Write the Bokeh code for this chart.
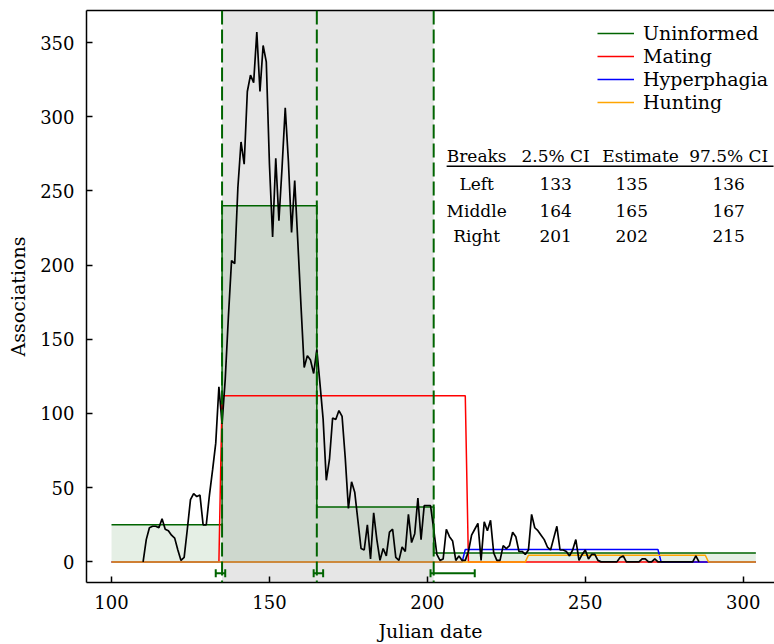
from bokeh.plotting import figure
from bokeh.models import (Range1d, LinearAxis, FixedTicker, Span, BoxAnnotation,
                          Whisker, TeeHead, ColumnDataSource, Legend, LegendItem)
from bokeh.embed import file_html
from bokeh.resources import INLINE
from bokeh.core.properties import value

# ---------------- data ----------------
days = list(range(110, 287))
associations = [
    0, 15, 23, 24, 24, 23, 29, 22, 21, 18,
    16, 8, 1, 3, 22, 42, 46, 44, 45, 25,
    25, 45, 62, 80, 118, 93, 123, 165, 203, 201,
    252, 283, 268, 317, 328, 323, 357, 317, 348, 337,
    268, 219, 272, 230, 266, 306, 270, 222, 257, 215,
    172, 131, 139, 136, 127, 143, 120, 96, 55, 69,
    97, 96, 102, 98, 70, 36, 54, 47, 28, 9,
    8, 25, 2, 33, 15, 1, 9, 4, 20, 22,
    3, 1, 10, 7, 32, 13, 19, 43, 15, 38,
    38, 38, 22, 5, 1, 2, 22, 17, 14, 1,
    4, 1, 1, 7, 18, 22, 26, 1, 27, 21,
    28, 6, 1, 1, 11, 9, 11, 20, 17, 7,
    7, 5, 8, 32, 23, 21, 18, 15, 10, 8,
    16, 24, 8, 8, 7, 4, 8, 15, 1, 5,
    8, 2, 5, 5, 1, 0, 0, 0, 0, 0,
    0, 3, 4, 0, 0, 0, 0, 0, 2, 2,
    0, 0, 2, 0, 0, 0, 0, 0, 0, 0,
    0, 0, 0, 0, 0, 4, 0,
]

break_names = ["Left", "Middle", "Right"]
ci_low = [133, 164, 201]
estimate = [135, 165, 202]
ci_high = [136, 167, 215]
table_header = ["Breaks", "2.5% CI", "Estimate", "97.5% CI"]

model_start, model_end = 100, 304
uninformed_levels = [25, 240, 37, 6]

mating_x = [100, 134, 135, 212, 213, 304]
mating_y = [0, 0, 112, 112, 0, 0]
hyperphagia_x = [100, 211, 212, 273, 274, 304]
hyperphagia_y = [0, 0, 8.3, 8.3, 0, 0]
hunting_x = [100, 231, 232, 288, 289, 304]
hunting_y = [0, 0, 4.5, 4.5, 0, 0]

# step line for uninformed model built from breaks and levels
uninf_x = [model_start]
uninf_y = [uninformed_levels[0]]
for b, lv_prev, lv_next in zip(estimate, uninformed_levels[:-1], uninformed_levels[1:]):
    uninf_x += [b, b]
    uninf_y += [lv_prev, lv_next]
uninf_x.append(model_end)
uninf_y.append(uninformed_levels[-1])

# ---------------- figure ----------------
FONT = "DejaVu Serif"
GREEN = "#006400"

p = figure(width=774, height=644,
           x_range=Range1d(92.08, 309.9), y_range=Range1d(-13.9, 371.6),
           output_backend="svg", toolbar_location=None,
           min_border_left=86, min_border_right=0, min_border_top=10, min_border_bottom=61)
p.outline_line_color = None
p.xgrid.visible = False
p.ygrid.visible = False
p.background_fill_color = "white"

# grey band between left and right breaks
p.add_layout(BoxAnnotation(left=estimate[0], right=estimate[-1], fill_color="#e6e6e6",
                           fill_alpha=1.0, line_color=None, level="underlay"))

# uninformed fill
p.varea(x=uninf_x, y1=[0] * len(uninf_x), y2=uninf_y, fill_color=GREEN, fill_alpha=0.1)

r_uninf = p.line(uninf_x, uninf_y, line_color=GREEN, line_width=1.5)
r_mat = p.line(mating_x, mating_y, line_color="red", line_width=1.5)
r_hyp = p.line(hyperphagia_x, hyperphagia_y, line_color="blue", line_width=1.5)
r_hun = p.line(hunting_x, hunting_y, line_color="orange", line_width=1.5)

p.line(days, associations, line_color="black", line_width=1.7)

# dashed break lines
for b in estimate:
    p.add_layout(Span(location=b, dimension="height", line_color=GREEN,
                      line_dash="14 5", line_width=2))

# CI whiskers
ci_src = ColumnDataSource(dict(base=[-7.6] * len(estimate), lo=ci_low, hi=ci_high))
p.add_layout(Whisker(source=ci_src, base="base", lower="lo", upper="hi", dimension="width",
                     line_color=GREEN, line_width=2,
                     lower_head=TeeHead(size=8, line_color=GREEN, line_width=2),
                     upper_head=TeeHead(size=8, line_color=GREEN, line_width=2)))

# table
col_x = [215.6, 240.6, 267.5, 295.4]
val_x = [215.6, 240.6, 264.7, 295.4]
header_y = 273.8
row_y = [254.8, 236.8, 219.4]
p.text(x=col_x, y=[header_y] * 4, text=table_header, text_font=value(FONT),
       text_font_size="17px", text_align="center", text_baseline="middle", text_color="black")
p.segment(x0=[206.1], y0=[266.6], x1=[309.6], y1=[266.6], line_color="black", line_width=1.5)
cells_x, cells_y, cells_t = [], [], []
for i, name in enumerate(break_names):
    for j, v in enumerate([name, ci_low[i], estimate[i], ci_high[i]]):
        cells_x.append(val_x[j])
        cells_y.append(row_y[i])
        cells_t.append(str(v))
p.text(x=cells_x, y=cells_y, text=cells_t, text_font=value(FONT), text_font_size="17px",
       text_align="center", text_baseline="middle", text_color="black")

# axes
p.xaxis.ticker = FixedTicker(ticks=[100, 150, 200, 250, 300])
p.yaxis.ticker = FixedTicker(ticks=[0, 50, 100, 150, 200, 250, 300, 350])
for ax in (p.xaxis[0], p.yaxis[0]):
    ax.major_tick_in = 6
    ax.major_tick_out = 0
    ax.minor_tick_line_color = None
    ax.axis_line_width = 1.5
    ax.major_tick_line_width = 1.5
    ax.major_label_text_font = FONT
    ax.major_label_text_font_size = "18px"
    ax.major_label_text_color = "black"
    ax.axis_label_text_font = FONT
    ax.axis_label_text_font_size = "19px"
    ax.axis_label_text_font_style = "normal"
    ax.axis_label_text_color = "black"
    ax.major_label_standoff = 12
    ax.axis_label_standoff = 8
p.xaxis.axis_label = "Julian date"
p.yaxis.axis_label = "Associations"

top_axis = LinearAxis(ticker=FixedTicker(ticks=[]), major_label_text_font_size="0px",
                      major_tick_in=0, major_tick_out=0, minor_tick_line_color=None,
                      axis_line_width=1.5)
p.add_layout(top_axis, "above")

legend = Legend(items=[LegendItem(label="Uninformed", renderers=[r_uninf]),
                       LegendItem(label="Mating", renderers=[r_mat]),
                       LegendItem(label="Hyperphagia", renderers=[r_hyp]),
                       LegendItem(label="Hunting", renderers=[r_hun])],
                location=(511, 469), glyph_width=37, glyph_height=18, label_height=18,
                label_standoff=9, spacing=1, padding=0, margin=0,
                border_line_color=None, background_fill_alpha=0,
                label_text_font=FONT, label_text_font_size="19px", label_text_color="black")
p.add_layout(legend)
for r in legend.items:
    pass

open("out.html", "w").write(file_html(p, INLINE))
